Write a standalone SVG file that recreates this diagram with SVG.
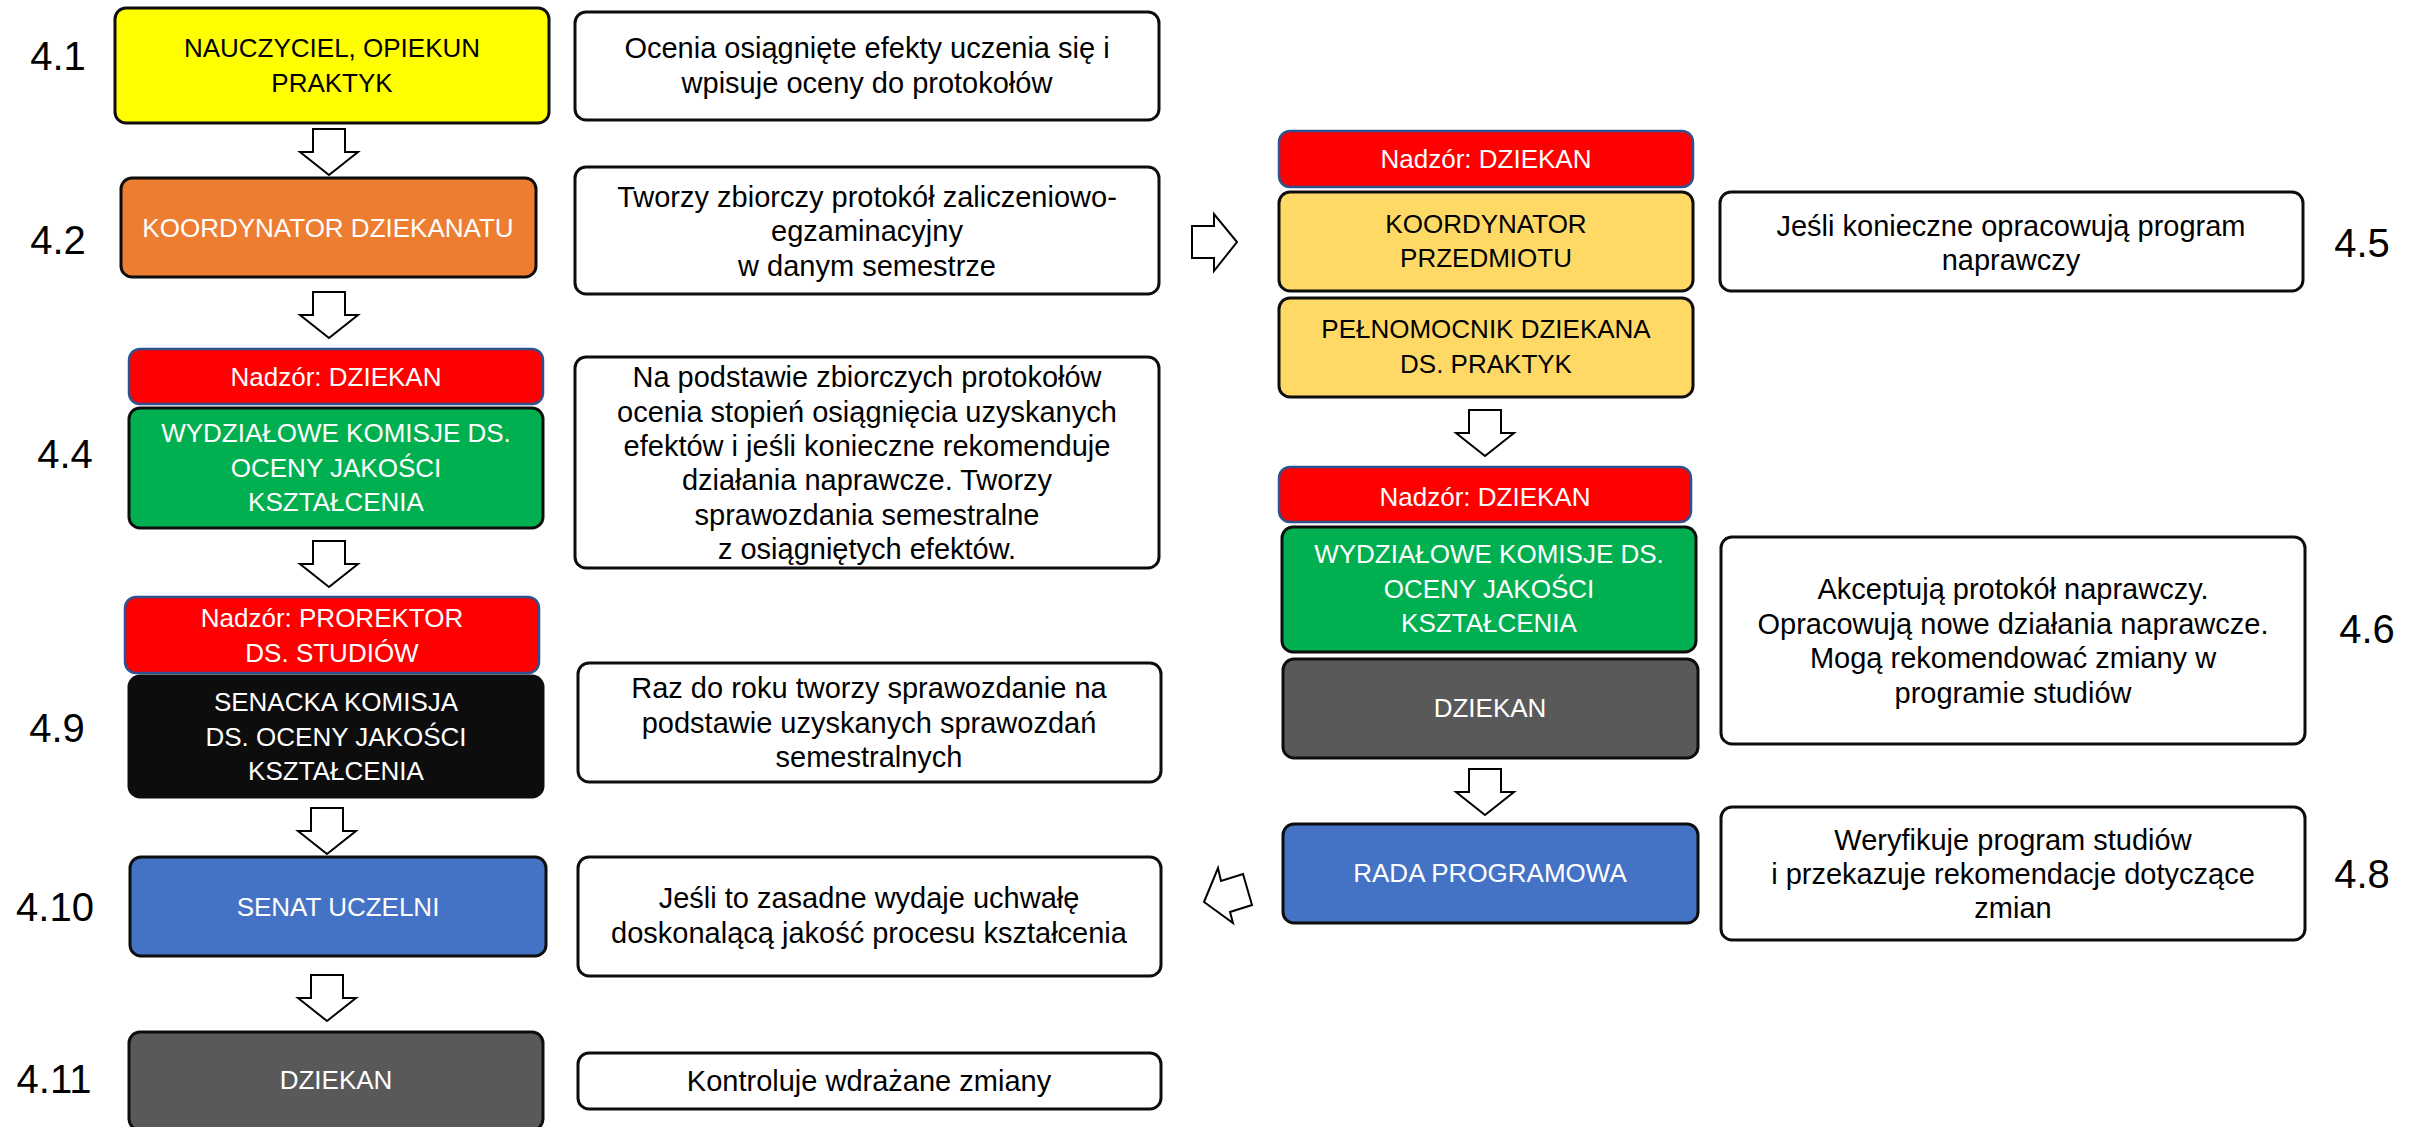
<svg xmlns="http://www.w3.org/2000/svg" xmlns:xlink="http://www.w3.org/1999/xlink" width="2417" height="1127" viewBox="0 0 2417 1127">
<style>
text{font-family:"Liberation Sans",Arial,sans-serif;font-size:26px;text-anchor:middle}
.w{fill:#fff}
.k{fill:#000}
.d{fill:#000;font-size:29px}
.num{font-size:40px;fill:#000}
.box{stroke:#0d0d0d;stroke-width:3}
.red{fill:#ff0000;stroke:#2f528f;stroke-width:2.5}
.txt{fill:#fff;stroke:#0d0d0d;stroke-width:3}
.arr{fill:#fff;stroke:#000;stroke-width:2;stroke-linejoin:miter}
</style>
<defs>
<path id="down" d="M -16 0 H 16 V 23 H 29 L 0 46 L -29 23 H -16 Z"/>
</defs>
<rect width="2417" height="1127" fill="#fff"/>

<g id="labels">
<text class="num" x="58" y="70">4.1</text>
<text class="num" x="58" y="254">4.2</text>
<text class="num" x="65" y="468">4.4</text>
<text class="num" x="57" y="742">4.9</text>
<text class="num" x="55" y="921">4.10</text>
<text class="num" x="54" y="1093">4.11</text>
<text class="num" x="2362" y="257">4.5</text>
<text class="num" x="2367" y="643">4.6</text>
<text class="num" x="2362" y="888">4.8</text>
</g>

<g id="connectors">
<use href="#down" class="arr" x="329" y="129"/>
<use href="#down" class="arr" x="329" y="292"/>
<use href="#down" class="arr" x="329" y="541"/>
<use href="#down" class="arr" x="327" y="808"/>
<use href="#down" class="arr" x="327" y="975"/>
<use href="#down" class="arr" x="1485" y="410"/>
<use href="#down" class="arr" x="1485" y="769"/>
<polygon class="arr" points="1192,226 1214,226 1214,214 1237,242 1214,271 1214,258 1192,258"/>
<polygon class="arr" points="1204,902 1218,868 1221,881 1243,874 1252,905 1230,912 1233,923"/>
</g>

<g id="n41">
<rect class="box" x="115" y="8" width="434" height="115" rx="11" fill="#ffff00"/>
<text class="k" x="332" y="57">NAUCZYCIEL, OPIEKUN</text>
<text class="k" x="332" y="92">PRAKTYK</text>
</g>
<g id="t41">
<rect class="txt" x="575" y="12" width="584" height="108" rx="11"/>
<text class="d" x="867" y="58">Ocenia osiągnięte efekty uczenia się i</text>
<text class="d" x="867" y="93">wpisuje oceny do protokołów</text>
</g>

<g id="n42">
<rect class="box" x="121" y="178" width="415" height="99" rx="11" fill="#ed7d31"/>
<text class="w" x="328" y="237">KOORDYNATOR DZIEKANATU</text>
</g>
<g id="t42">
<rect class="txt" x="575" y="167" width="584" height="127" rx="11"/>
<text class="d" x="867" y="207">Tworzy zbiorczy protokół zaliczeniowo-</text>
<text class="d" x="867" y="241">egzaminacyjny</text>
<text class="d" x="867" y="276">w danym semestrze</text>
</g>

<g id="n44nadzor">
<rect class="red" x="129" y="349" width="414" height="55" rx="11"/>
<text class="w" x="336" y="386">Nadzór: DZIEKAN</text>
</g>
<g id="n44">
<rect class="box" x="129" y="408" width="414" height="120" rx="11" fill="#00b050"/>
<text class="w" x="336" y="442">WYDZIAŁOWE KOMISJE  DS.</text>
<text class="w" x="336" y="477">OCENY JAKOŚCI</text>
<text class="w" x="336" y="511">KSZTAŁCENIA</text>
</g>
<g id="t44">
<rect class="txt" x="575" y="357" width="584" height="211" rx="11"/>
<text class="d" x="867" y="387">Na podstawie zbiorczych protokołów</text>
<text class="d" x="867" y="422">ocenia stopień osiągnięcia uzyskanych</text>
<text class="d" x="867" y="456">efektów i jeśli konieczne rekomenduje</text>
<text class="d" x="867" y="490">działania naprawcze. Tworzy</text>
<text class="d" x="867" y="525">sprawozdania semestralne</text>
<text class="d" x="867" y="559">z osiągniętych efektów.</text>
</g>

<g id="n49nadzor">
<rect class="red" x="125" y="597" width="414" height="76" rx="11"/>
<text class="w" x="332" y="627">Nadzór: PROREKTOR</text>
<text class="w" x="332" y="662">DS. STUDIÓW</text>
</g>
<g id="n49">
<rect class="box" x="129" y="676" width="414" height="121" rx="11" fill="#0d0d0d"/>
<text class="w" x="336" y="711">SENACKA KOMISJA</text>
<text class="w" x="336" y="746">DS. OCENY JAKOŚCI</text>
<text class="w" x="336" y="780">KSZTAŁCENIA</text>
</g>
<g id="t49">
<rect class="txt" x="578" y="663" width="583" height="119" rx="11"/>
<text class="d" x="869" y="698">Raz do roku tworzy sprawozdanie na</text>
<text class="d" x="869" y="733">podstawie uzyskanych sprawozdań</text>
<text class="d" x="869" y="767">semestralnych</text>
</g>

<g id="n410">
<rect class="box" x="130" y="857" width="416" height="99" rx="11" fill="#4472c4"/>
<text class="w" x="338" y="916">SENAT UCZELNI</text>
</g>
<g id="t410">
<rect class="txt" x="578" y="857" width="583" height="119" rx="11"/>
<text class="d" x="869" y="908">Jeśli to zasadne wydaje uchwałę</text>
<text class="d" x="869" y="943">doskonalącą jakość procesu kształcenia</text>
</g>

<g id="n411">
<rect class="box" x="129" y="1032" width="414" height="98" rx="11" fill="#595959"/>
<text class="w" x="336" y="1089">DZIEKAN</text>
</g>
<g id="t411">
<rect class="txt" x="578" y="1053" width="583" height="56" rx="11"/>
<text class="d" x="869" y="1091">Kontroluje wdrażane zmiany</text>
</g>

<g id="n45nadzor">
<rect class="red" x="1279" y="131" width="414" height="56" rx="11"/>
<text class="w" x="1486" y="168">Nadzór: DZIEKAN</text>
</g>
<g id="n45a">
<rect class="box" x="1279" y="192" width="414" height="99" rx="11" fill="#ffd966"/>
<text class="k" x="1486" y="233">KOORDYNATOR</text>
<text class="k" x="1486" y="267">PRZEDMIOTU</text>
</g>
<g id="n45b">
<rect class="box" x="1279" y="298" width="414" height="99" rx="11" fill="#ffd966"/>
<text class="k" x="1486" y="338">PEŁNOMOCNIK DZIEKANA</text>
<text class="k" x="1486" y="373">DS. PRAKTYK</text>
</g>
<g id="t45">
<rect class="txt" x="1720" y="192" width="583" height="99" rx="11"/>
<text class="d" x="2011" y="236">Jeśli konieczne opracowują program</text>
<text class="d" x="2011" y="270">naprawczy</text>
</g>

<g id="n46nadzor">
<rect class="red" x="1279" y="467" width="412" height="55" rx="11"/>
<text class="w" x="1485" y="506">Nadzór: DZIEKAN</text>
</g>
<g id="n46a">
<rect class="box" x="1282" y="527" width="414" height="125" rx="11" fill="#00b050"/>
<text class="w" x="1489" y="563">WYDZIAŁOWE KOMISJE DS.</text>
<text class="w" x="1489" y="598">OCENY JAKOŚCI</text>
<text class="w" x="1489" y="632">KSZTAŁCENIA</text>
</g>
<g id="n46b">
<rect class="box" x="1283" y="659" width="415" height="99" rx="11" fill="#595959"/>
<text class="w" x="1490" y="717">DZIEKAN</text>
</g>
<g id="t46">
<rect class="txt" x="1721" y="537" width="584" height="207" rx="11"/>
<text class="d" x="2013" y="599">Akceptują protokół naprawczy.</text>
<text class="d" x="2013" y="634">Opracowują nowe działania naprawcze.</text>
<text class="d" x="2013" y="668">Mogą rekomendować zmiany w</text>
<text class="d" x="2013" y="703">programie studiów</text>
</g>

<g id="n48">
<rect class="box" x="1283" y="824" width="415" height="99" rx="11" fill="#4472c4"/>
<text class="w" x="1490" y="882">RADA PROGRAMOWA</text>
</g>
<g id="t48">
<rect class="txt" x="1721" y="807" width="584" height="133" rx="11"/>
<text class="d" x="2013" y="850">Weryfikuje program studiów</text>
<text class="d" x="2013" y="884">i przekazuje rekomendacje dotyczące</text>
<text class="d" x="2013" y="918">zmian</text>
</g>
</svg>
